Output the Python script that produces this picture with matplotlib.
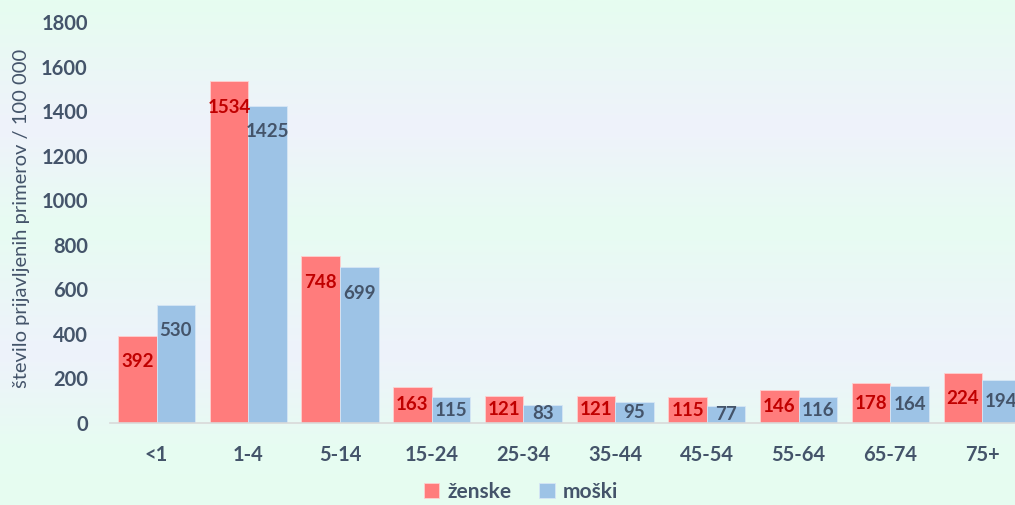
import numpy as np
import matplotlib.pyplot as plt
from matplotlib.colors import LinearSegmentedColormap

# age groups and rates per 100 000 by sex
age_groups = ['<1', '1-4', '5-14', '15-24', '25-34', '35-44', '45-54', '55-64', '65-74', '75+']
zenske = [392, 1534, 748, 163, 121, 121, 115, 146, 178, 224]
moski = [530, 1425, 699, 115, 83, 95, 77, 116, 164, 194]

RED = '#ff7c7c'
BLUE = '#9dc3e6'
RED_TXT = '#c00000'
GREY_TXT = '#44546a'

plt.rcParams['font.family'] = ['Lato', 'DejaVu Sans']

fig = plt.figure(figsize=(10.15, 5.05), dpi=100)

# soft banded background behind everything
bg = fig.add_axes([0, 0, 1, 1], zorder=-10)
bg_cmap = LinearSegmentedColormap.from_list('bg', [
    (0.0, '#e6fdf0'), (0.25, '#eff2fb'), (0.45, '#e7fcf2'),
    (0.70, '#eef2fb'), (0.88, '#e7fcf2'), (1.0, '#e6fdf0')])
grad = np.linspace(0, 1, 256).reshape(-1, 1)
bg.imshow(grad, aspect='auto', cmap=bg_cmap, extent=[0, 1, 1, 0])
bg.axis('off')

ax = fig.add_axes([110 / 1015, 1 - 423 / 505, 918 / 1015, 401 / 505])
ax.patch.set_alpha(0)

x = np.arange(len(age_groups))
w = 0.42
b1 = ax.bar(x - w / 2, zenske, w, color=RED, edgecolor='#ffd0d0', linewidth=0.6, label='ženske')
b2 = ax.bar(x + w / 2, moski, w, color=BLUE, edgecolor='#d6e6f5', linewidth=0.6, label='moški')

# value labels inside the bar ends
for xs, vals, col in [(x - w / 2, zenske, RED_TXT), (x + w / 2, moski, GREY_TXT)]:
    for xi, v in zip(xs, vals):
        y = max(v - 117, v / 2)
        ax.text(xi, y, str(v), ha='center', va='center', color=col,
                fontsize=13.5, fontweight='bold')

ax.set_ylim(0, 1800)
ax.set_xlim(-0.507, 9.5)
ax.set_yticks(range(0, 1801, 200))
ax.set_xticks(x)
ax.set_xticklabels(age_groups)
ax.tick_params(axis='both', length=0, colors=GREY_TXT, labelsize=14.5)
ax.tick_params(axis='y', pad=16)
ax.tick_params(axis='x', pad=16)
for lbl in ax.get_xticklabels() + ax.get_yticklabels():
    lbl.set_fontweight('bold')

for s in ['top', 'right', 'left']:
    ax.spines[s].set_visible(False)
ax.spines['bottom'].set_color('#d9d9d9')
ax.spines['bottom'].set_linewidth(1.2)

fig.text(22 / 1015, 1 - 218 / 505, 'število prijavljenih primerov / 100 000',
         rotation=90, ha='center', va='center', color=GREY_TXT, fontsize=14.5)

fig.legend(handles=[b1, b2], loc='center', bbox_to_anchor=(521 / 1015, 1 - 492 / 505),
           ncol=2, frameon=False, handlelength=0.75, handleheight=0.75,
           handletextpad=0.4, columnspacing=1.3,
           prop={'weight': 'bold', 'size': 15}, labelcolor=GREY_TXT)

fig.savefig('out.png', dpi=100)
